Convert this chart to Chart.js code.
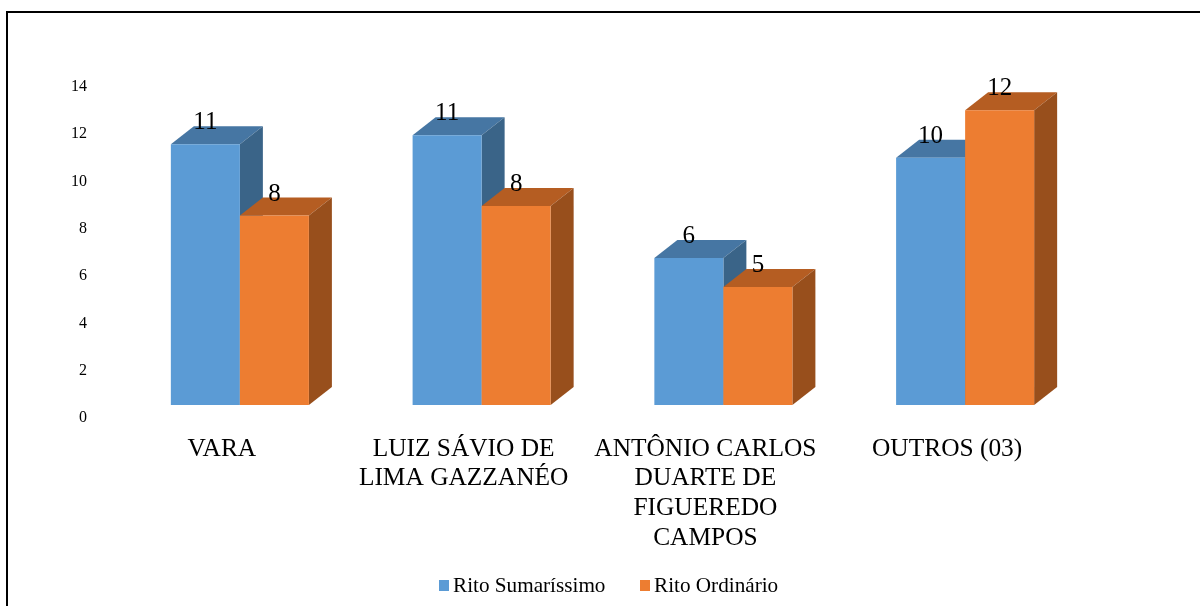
<!DOCTYPE html>
<html><head><meta charset="utf-8">
<script src="https://cdn.jsdelivr.net/npm/chart.js@4"></script>
<style>
html,body{margin:0;padding:0;background:#fff;overflow:hidden}
#wrap{position:relative;width:1200px;height:606px}
canvas{position:absolute;left:0;top:0}
#ft{position:absolute;left:6px;top:11px;width:1194px;height:595px;border-top:2px solid #000;border-left:2px solid #000;box-sizing:border-box}
</style></head>
<body><div id="wrap"><canvas id="c" width="1200" height="606"></canvas><div id="ft"></div></div>
<script>
const categories = [
  ['VARA'],
  ['LUIZ SÁVIO DE','LIMA GAZZANÉO'],
  ['ANTÔNIO CARLOS','DUARTE DE','FIGUEREDO','CAMPOS'],
  ['OUTROS (03)']
];
const seriesNames = ['Rito Sumaríssimo','Rito Ordinário'];
const sumarissimoHeights = [11.03, 11.41, 6.22, 10.46];
const ordinarioHeights = [8.01, 8.42, 4.99, 12.47];
const sumarissimoLabels = ['11','11','6','10'];
const ordinarioLabels = ['8','8','5','12'];
const frontColors = ['#5B9BD5','#ED7D31'];
const topColors = ['#4676A3','#B55D22'];
const sideColors = ['#3A6488','#984F1C'];
const printed = [sumarissimoLabels, ordinarioLabels];
const DX = 23, DY = 18;
const serif = '"Liberation Serif","Times New Roman",serif';

const bars3d = {
  id:'bars3d',
  beforeDatasetDraw(){ return false; },
  afterDatasetsDraw(chart){
    const ctx = chart.ctx;
    [0,1].forEach(i=>{
      chart.getDatasetMeta(i).data.forEach(b=>{
        const l=b.x-b.width/2, r=b.x+b.width/2, t=b.y, bs=b.base;
        ctx.save();
        ctx.fillStyle=topColors[i];
        ctx.beginPath();ctx.moveTo(l,t);ctx.lineTo(l+DX,t-DY);ctx.lineTo(r+DX,t-DY);ctx.lineTo(r,t);ctx.closePath();ctx.fill();
        ctx.fillStyle=sideColors[i];
        ctx.beginPath();ctx.moveTo(r,t);ctx.lineTo(r+DX,t-DY);ctx.lineTo(r+DX,bs-DY);ctx.lineTo(r,bs);ctx.closePath();ctx.fill();
        ctx.restore();
        b.draw(ctx);
      });
    });
    ctx.save();
    ctx.fillStyle='#000';ctx.font='25px '+serif;ctx.textAlign='center';ctx.textBaseline='alphabetic';
    [0,1].forEach(i=>chart.getDatasetMeta(i).data.forEach((b,k)=>{
      ctx.fillText(printed[i][k],b.x,b.y-15);
    }));
    ctx.restore();
  }
};
const legend2 = {
  id:'legend2',
  afterDraw(chart){
    const ctx=chart.ctx, xs=[439,640], y=580;
    ctx.save();
    ctx.font='21.2px '+serif;ctx.textBaseline='alphabetic';ctx.textAlign='left';
    seriesNames.forEach((n,i)=>{
      ctx.fillStyle=frontColors[i];ctx.fillRect(xs[i],y,10,11);
      ctx.fillStyle='#000';ctx.fillText(n,xs[i]+14,y+12);
    });
    ctx.restore();
  }
};
new Chart(document.getElementById('c'),{
  type:'bar',
  data:{labels:categories,datasets:[
    {label:seriesNames[0],data:sumarissimoHeights,backgroundColor:frontColors[0],categoryPercentage:0.571,barPercentage:1},
    {label:seriesNames[1],data:ordinarioHeights,backgroundColor:frontColors[1],categoryPercentage:0.571,barPercentage:1}
  ]},
  options:{
    responsive:false,animation:false,
    layout:{padding:{top:74,right:114,left:0,bottom:0}},
    plugins:{legend:{display:false},tooltip:{enabled:false},title:{display:false}},
    scales:{
      x:{grid:{display:false},border:{display:false},
        afterFit(s){s.height=201;},
        ticks:{autoSkip:false,maxRotation:0,minRotation:0,labelOffset:-18,padding:21,color:'#000',
          font:{family:serif,size:25.4,lineHeight:1.17}}},
      y:{min:0,max:14,grid:{display:false},border:{display:false},
        afterFit(s){s.width=119;},
        ticks:{stepSize:2,labelOffset:13,padding:24,color:'#000',font:{family:serif,size:16}}}
    }
  },
  plugins:[bars3d,legend2]
});
</script></body></html>
